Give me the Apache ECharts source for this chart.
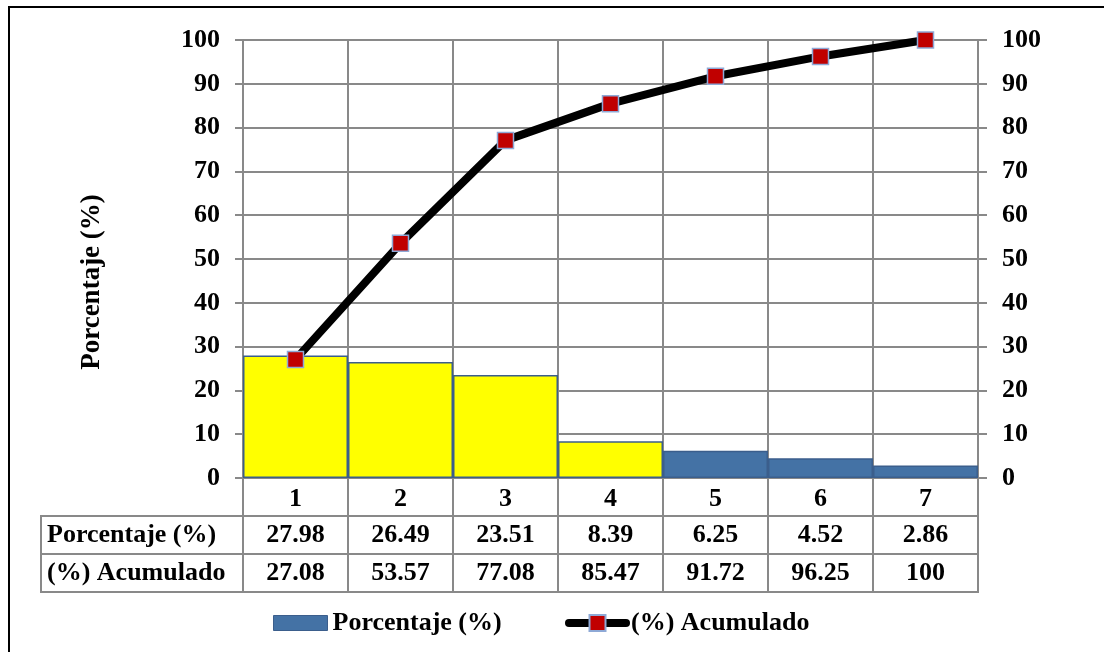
<!DOCTYPE html>
<html>
<head>
<meta charset="utf-8">
<script src="https://cdn.jsdelivr.net/npm/echarts@6/dist/echarts.min.js"></script>
<style>
html,body{margin:0;padding:0;background:#fff;}
#c{width:1104px;height:652px;}
</style>
</head>
<body>
<div id="c"></div>
<script>
const categories = ['1', '2', '3', '4', '5', '6', '7'];
const porcentaje = [27.98, 26.49, 23.51, 8.39, 6.25, 4.52, 2.86];
const acumulado = [27.08, 53.57, 77.08, 85.47, 91.72, 96.25, 100];
const rowHeaders = ['Porcentaje (%)', '(%) Acumulado'];
const yMin = 0, yMax = 100, yStep = 10;
const vitalCount = 4;

const FONT = 'Liberation Serif';
const GRAY = '#898989';
const txt = { fontFamily: FONT, fontWeight: 'bold', fontSize: 26, color: '#000' };

const L = 243, R = 1104 - 978, T = 40, B = 652 - 478;
const row1Top = 516, rowH = 38;

const chart = echarts.init(document.getElementById('c'));

const barData = porcentaje.map((v, i) => ({
  value: v,
  itemStyle: i < vitalCount
    ? { color: '#FFFF00', borderColor: '#3B5E8C', borderWidth: 1.5 }
    : { color: '#4472A5', borderColor: '#3B5E8C', borderWidth: 1.5 }
}));

const valueAxisBase = {
  type: 'value', min: yMin, max: yMax, interval: yStep,
  axisLine: { show: true, lineStyle: { color: GRAY, width: 2 } },
  axisTick: { show: true, length: 8, lineStyle: { color: GRAY, width: 2 } },
  splitLine: { show: true, lineStyle: { color: GRAY, width: 2 } },
  axisLabel: Object.assign({ margin: 23 }, txt)
};

const rowAxis = (gridIndex, values) => ({
  type: 'category', gridIndex, data: categories,
  axisLine: { show: false }, axisTick: { show: false },
  splitLine: { show: true, interval: 0, lineStyle: { color: GRAY, width: 2 } },
  axisLabel: Object.assign({ interval: 0, margin: -19, verticalAlign: 'middle',
    formatter: (v, i) => String(values[i]) }, txt)
});

chart.setOption({
  animation: false,
  grid: [
    { left: L, right: R, top: T, bottom: B },
    { left: L, right: R, top: row1Top, height: rowH, show: true, borderColor: GRAY, borderWidth: 2 },
    { left: L, right: R, top: row1Top + rowH, height: rowH, show: true, borderColor: GRAY, borderWidth: 2 }
  ],
  legend: [
    { data: [{ name: 'Porcentaje (%)', icon: 'rect' }], left: 273, top: 610, padding: 0,
      itemWidth: 54, itemHeight: 15, textStyle: txt, selectedMode: false,
      itemStyle: { borderColor: '#3B5E8C', borderWidth: 1 } },
    { data: ['(%) Acumulado'], left: 565, top: 610, padding: 0, itemWidth: 57, itemHeight: 20,
      textStyle: txt, selectedMode: false,
      lineStyle: { width: 8, color: '#000', cap: 'round' } }
  ],
  xAxis: [
    { type: 'category', gridIndex: 0, data: categories,
      axisLine: { show: true, lineStyle: { color: GRAY, width: 2 } },
      axisTick: { show: true, interval: 0, length: 37, lineStyle: { color: GRAY, width: 2 } },
      splitLine: { show: true, interval: 0, lineStyle: { color: GRAY, width: 2 } },
      axisLabel: Object.assign({ interval: 0, margin: 8 }, txt) },
    rowAxis(1, porcentaje),
    rowAxis(2, acumulado)
  ],
  yAxis: [
    Object.assign({}, valueAxisBase, { gridIndex: 0, position: 'left' }),
    Object.assign({}, valueAxisBase, { gridIndex: 0, position: 'right',
      axisTick: { show: true, length: 9, lineStyle: { color: GRAY, width: 2 } },
      axisLabel: Object.assign({ margin: 24 }, txt), splitLine: { show: false } }),
    { type: 'value', gridIndex: 1, show: false },
    { type: 'value', gridIndex: 2, show: false }
  ],
  series: [
    { name: 'Porcentaje (%)', type: 'bar', xAxisIndex: 0, yAxisIndex: 0,
      barCategoryGap: '0%', data: barData,
      itemStyle: { color: '#4472A5', borderColor: '#3B5E8C', borderWidth: 1.5 } },
    { name: '(%) Acumulado', type: 'line', xAxisIndex: 0, yAxisIndex: 1,
      data: acumulado, symbol: 'rect', symbolSize: 16,
      lineStyle: { color: '#000', width: 8 },
      itemStyle: { color: '#C00000', borderColor: '#8EA9D6', borderWidth: 1.5 } }
  ],
  graphic: [
    { type: 'rect', shape: { x: 9, y: 7, width: 1300, height: 900 },
      style: { fill: 'none', stroke: '#000', lineWidth: 2 }, silent: true },
    { type: 'rect', shape: { x: 41, y: row1Top, width: L - 41, height: rowH * 2 },
      style: { fill: 'none', stroke: GRAY, lineWidth: 2 }, silent: true },
    { type: 'line', shape: { x1: 41, y1: row1Top + rowH, x2: L, y2: row1Top + rowH },
      style: { stroke: GRAY, lineWidth: 2 }, silent: true },
    { type: 'text', x: 47, y: row1Top + rowH / 2,
      style: { text: rowHeaders[0], align: 'left', verticalAlign: 'middle', fill: '#000',
        font: 'bold 26px "Liberation Serif"' } },
    { type: 'text', x: 47, y: row1Top + rowH * 1.5,
      style: { text: rowHeaders[1], align: 'left', verticalAlign: 'middle', fill: '#000',
        font: 'bold 26px "Liberation Serif"' } },
    { type: 'text', x: 92, y: 282, rotation: Math.PI / 2,
      style: { text: 'Porcentaje (%)', align: 'center', verticalAlign: 'middle', fill: '#000',
        font: 'bold 27px "Liberation Serif"' } }
  ]
});
</script>
</body>
</html>
